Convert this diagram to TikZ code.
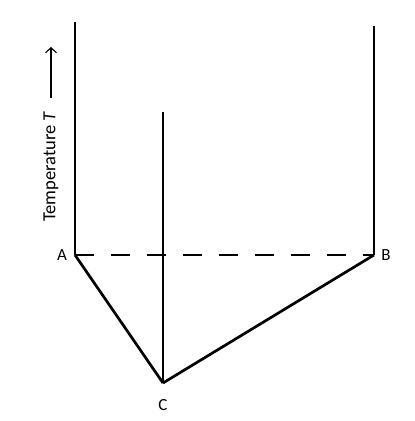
\documentclass[tikz,border=0pt]{standalone}
\usepackage{fontspec}
\setmainfont{Carlito}
\usetikzlibrary{arrows.meta,positioning}

\begin{document}
\begin{tikzpicture}[x=1pt,y=1pt,line width=2.7pt]
    \useasboundingbox (0,0) rectangle (415,421);

    \coordinate (ptA) at (75,166);
    \coordinate (ptB) at (374,166);
    \coordinate (ptC) at (163,38);
    \coordinate (topA) at (75,399);
    \coordinate (topB) at (374,395);
    \coordinate (topC) at (163,309);

    \node[font=\fontsize{17}{19}\selectfont] (labA) at (62,166) {A};
    \node[font=\fontsize{17}{19}\selectfont] (labB) at (386,166) {B};
    \node[font=\fontsize{17}{19}\selectfont] (labC) at (163,16) {C};

    \foreach \from/\to in {topA/ptA,topB/ptB,topC/ptC,ptA/ptC,ptB/ptC}
        \draw[line join=round] (\from)--(\to);

    \draw[dash pattern=on 19pt off 17pt] (ptA)--(ptB);

    \node[rotate=90,anchor=west,inner sep=0pt,font=\fontsize{18.5}{20}\selectfont] (temp) at (51,198) {Temperature \textit{T}};
    \coordinate (arrTop) at (51,374);
    \draw[-{Straight Barb[length=5pt,width=11pt]},line width=1.1pt] (temp.east |- 0,323)--(arrTop);
\end{tikzpicture}
\end{document}
